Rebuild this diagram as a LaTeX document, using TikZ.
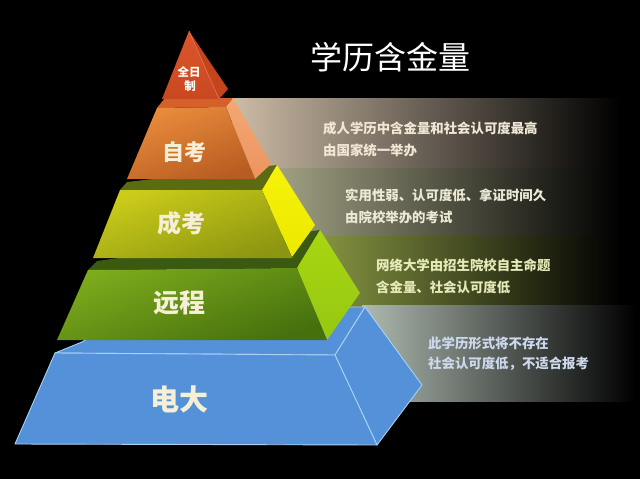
\documentclass[tikz,border=0pt]{standalone}
\usepackage{fontspec}
\newfontfamily\cjk{Noto Sans CJK SC}
\definecolor{bandA}{HTML}{CDBCA6}
\definecolor{bandB}{HTML}{A4A486}
\definecolor{bandC}{HTML}{8E9E46}
\definecolor{bandD}{HTML}{AEBAB0}
\definecolor{lblc}{HTML}{F4EFD6}
\definecolor{edgeblue}{HTML}{A6D2F4}
\definecolor{blueface}{HTML}{5591D8}
\definecolor{txtA}{HTML}{F0E8D4}
\definecolor{txtB}{HTML}{ECEAD6}
\definecolor{txtC}{HTML}{E6EAB8}
\definecolor{txtD}{HTML}{CCD8EC}
\tikzset{
  lbl/.style={font=\cjk\bfseries, text=lblc, inner sep=0pt},
  bandtxt/.style={font=\cjk\bfseries\fontsize{13.4}{14}\selectfont, anchor=west, inner sep=0pt},
  bluebox/.style={fill=blueface, draw=edgeblue, line width=0.9pt, line join=round},
  toptxt/.style={font=\cjk\bfseries\fontsize{11.5}{11.5}\selectfont, text=white, inner sep=0pt},
}
\begin{document}
\begin{tikzpicture}[x=1pt,y=-1pt]
\fill[black] (0,0) rectangle (640,479);
\useasboundingbox (0,0) rectangle (640,479);

% gradient bands
\shade[left color=bandA, right color=black] (232,98) rectangle (620,172);
\shade[left color=bandB, right color=black] (270,168) rectangle (620,240);
\shade[left color=bandC, right color=black] (298,236) rectangle (620,308);
\shade[left color=bandD, right color=black] (362,305) rectangle (636,401);

% level 1: dianda (blue)
\path[bluebox] (55,353) -- (335,355) -- (365,307) -- (140,307) -- (82,342) -- cycle;
\path[bluebox] (335,355) -- (365,307) -- (422,385) -- (377,445) -- cycle;
\path[bluebox] (55,353) -- (335,355) -- (377,445) -- (15,444) -- cycle;

% level 2: yuancheng (green)
\fill[color={rgb,255:red,58;green,90;blue,18}] (88,270) -- (297,268) -- (320,230) -- (97,261) -- cycle;
\shade[top color={rgb,255:red,168;green,214;blue,18}, bottom color={rgb,255:red,150;green,200;blue,16}]
  (297,268) -- (320,230) -- (360,293) -- (327,340) -- cycle;
\shade[top color={rgb,255:red,124;green,171;blue,28}, bottom color={rgb,255:red,70;green,112;blue,14}, shading angle=20]
  (88,270) -- (297,268) -- (327,340) -- (57,340) -- cycle;

% level 3: chengkao (yellow-green)
\fill[color={rgb,255:red,92;green,106;blue,16}] (120,190) -- (262,190) -- (277,165) -- (127,182) -- cycle;
\shade[top color={rgb,255:red,246;green,242;blue,10}, bottom color={rgb,255:red,236;green,232;blue,0}]
  (262,190) -- (277,165) -- (315,225) -- (292,257) -- cycle;
\shade[top color={rgb,255:red,204;green,204;blue,26}, bottom color={rgb,255:red,140;green,150;blue,16}, shading angle=20]
  (120,190) -- (262,190) -- (292,258) -- (93,258) -- cycle;

% level 4: zikao (orange)
\fill[color={rgb,255:red,214;green,96;blue,42}] (157,108) -- (226,107) -- (233,98) -- (165,98) -- cycle;
\shade[top color={rgb,255:red,244;green,168;blue,116}, bottom color={rgb,255:red,236;green,148;blue,96}]
  (226,107) -- (233,98) -- (271,164) -- (255,179) -- cycle;
\shade[top color={rgb,255:red,234;green,140;blue,60}, bottom color={rgb,255:red,184;green,92;blue,34}, shading angle=20]
  (157,108) -- (226,107) -- (255,179) -- (127,179) -- cycle;

% top: quanrizhi (red)
\fill[color={rgb,255:red,196;green,68;blue,28}] (189,31) -- (219,99) -- (228,89) -- cycle;
\shade[top color={rgb,255:red,222;green,86;blue,44}, bottom color={rgb,255:red,200;green,72;blue,32}]
  (189,31) -- (219,99) -- (162,99) -- cycle;
\draw[color={rgb,255:red,236;green,120;blue,84}, line width=0.6pt] (189,31) -- (219,99);

% labels
\node[toptxt] (qr) at (189,72) {全日};
\node[toptxt] (zhi) at (190,86) {制};
\node[lbl, font=\cjk\bfseries\fontsize{22}{22}\selectfont] (zk) at (184,152) {自考};
\node[lbl, font=\cjk\bfseries\fontsize{24}{24}\selectfont] (ck) at (181,223) {成考};
\node[lbl, font=\cjk\bfseries\fontsize{26}{26}\selectfont] (yc) at (179,303) {远程};
\node[lbl, font=\cjk\bfseries\fontsize{29}{29}\selectfont] (dd) at (179,399) {电大};

\node[font=\cjk\fontsize{32}{32}\selectfont, text=white, inner sep=0pt] (title) at (390,57) {学历含金量};

\node[bandtxt, text=txtA] (a1) at (323,128) {成人学历中含金量和社会认可度最高};
\node[bandtxt, text=txtA] (a2) at (323,150) {由国家统一举办};
\node[bandtxt, text=txtB] (b1) at (345,195) {实用性弱、认可度低、拿证时间久};
\node[bandtxt, text=txtB] (b2) at (345,217) {由院校举办的考试};
\node[bandtxt, text=txtC] (c1) at (376,265) {网络大学由招生院校自主命题};
\node[bandtxt, text=txtC] (c2) at (376,287) {含金量、社会认可度低};
\node[bandtxt, text=txtD] (d1) at (428,343) {此学历形式将不存在};
\node[bandtxt, text=txtD] (d2) at (428,364) {社会认可度低，不适合报考};
\end{tikzpicture}
\end{document}
